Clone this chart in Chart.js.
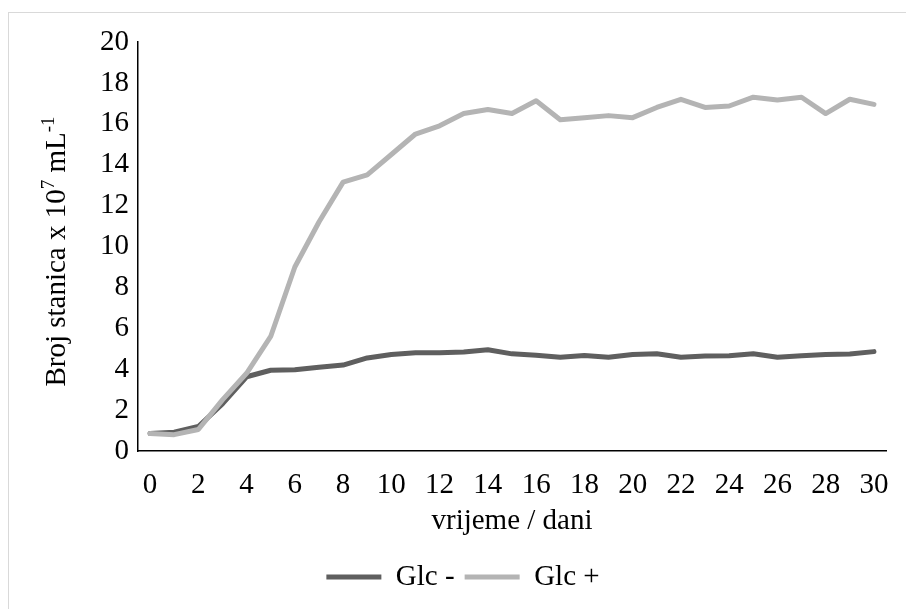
<!DOCTYPE html>
<html>
<head>
<meta charset="utf-8">
<script src="https://cdn.jsdelivr.net/npm/chart.js@4.4.1/dist/chart.umd.min.js"></script>
<style>
  html, body { margin: 0; padding: 0; background: #fff; }
  body { width: 906px; height: 609px; overflow: hidden; position: relative; }
  #frame { position: absolute; left: 8px; top: 12px; width: 1000px; height: 1000px;
           border-left: 1px solid #d9d9d9; border-top: 1px solid #d9d9d9; }
  #chart { position: absolute; left: 0; top: 0; }
</style>
</head>
<body>
<div id="frame"></div>
<canvas id="chart" width="906" height="609"></canvas>
<script>
"use strict";
// data
const days = [0, 1, 2, 3, 4, 5, 6, 7, 8, 9, 10, 11, 12, 13, 14, 15, 16, 17, 18, 19, 20,
  21, 22, 23, 24, 25, 26, 27, 28, 29, 30];
const glcMinus = [0.85, 0.92, 1.2, 2.3, 3.63, 3.95, 3.97, 4.1, 4.2, 4.55, 4.72, 4.8, 4.8, 4.84,
  4.95, 4.75, 4.68, 4.58, 4.67, 4.58, 4.72, 4.76, 4.58, 4.64, 4.66, 4.76, 4.58, 4.66, 4.72,
  4.74, 4.86];
const glcPlus = [0.85, 0.8, 1.05, 2.5, 3.8, 5.6, 9.0, 11.2, 13.15, 13.5, 14.5, 15.5, 15.9, 16.5,
  16.7, 16.5, 17.13, 16.2, 16.3, 16.4, 16.3, 16.8, 17.2, 16.8, 16.87, 17.3, 17.16, 17.3, 16.5,
  17.2, 16.95];
const yMin = 0;
const yMax = 20;
const yStep = 2;
const xTickEvery = 2;
const xTitle = "vrijeme / dani";
const yTitleParts = [
  { text: "Broj stanica x 10", sup: false },
  { text: "7", sup: true },
  { text: " mL", sup: false },
  { text: "-1", sup: true },
];

const FONT = "'Liberation Serif', 'Times New Roman', serif";
const SIZE = 29;

// y title with superscripts (chart.js titles can't do that)
const yTitlePlugin = {
  id: "yTitle",
  afterDraw(chart) {
    const ctx = chart.ctx;
    const area = chart.chartArea;
    const base = SIZE + "px " + FONT;
    const small = "19px " + FONT;
    ctx.save();
    let total = 0;
    const widths = yTitleParts.map((p) => {
      ctx.font = p.sup ? small : base;
      const w = ctx.measureText(p.text).width;
      total += w;
      return w;
    });
    ctx.translate(65, (area.top + area.bottom) / 2 + 5);
    ctx.rotate(-Math.PI / 2);
    ctx.fillStyle = "#000";
    ctx.textBaseline = "alphabetic";
    let x = -total / 2;
    yTitleParts.forEach((p, i) => {
      ctx.font = p.sup ? small : base;
      ctx.fillText(p.text, x, p.sup ? -11 : 0);
      x += widths[i];
    });
    ctx.restore();
  },
};

const cxt = document.querySelector("#chart").getContext("2d");
new Chart(cxt, {
  type: "line",
  data: {
    labels: days,
    datasets: [
      {
        label: "Glc -",
        data: glcMinus,
        borderColor: "#5f5f5f",
        backgroundColor: "#5f5f5f",
        borderWidth: 5,
        borderCapStyle: "round",
        borderJoinStyle: "round",
        pointRadius: 0,
        pointStyle: "line",
        tension: 0,
        order: 1,
      },
      {
        label: "Glc +",
        data: glcPlus,
        borderColor: "#b4b4b4",
        backgroundColor: "#b4b4b4",
        borderWidth: 5,
        borderCapStyle: "round",
        borderJoinStyle: "round",
        pointRadius: 0,
        pointStyle: "line",
        tension: 0,
        order: 0,
      },
    ],
  },
  options: {
    responsive: false,
    animation: false,
    devicePixelRatio: 1,
    layout: { padding: { top: 42, left: 40, right: 20, bottom: 7.5 } },
    plugins: {
      tooltip: { enabled: false },
      legend: {
        position: "bottom",
        labels: {
          usePointStyle: true,
          pointStyleWidth: 55,
          padding: 10,
          color: "#000",
          font: { family: FONT, size: SIZE },
          sort: (a, b) => a.datasetIndex - b.datasetIndex,
        },
      },
    },
    scales: {
      x: {
        type: "category",
        offset: true,
        grid: { display: false, drawTicks: false },
        border: { display: true, color: "#000", width: 1.5 },
        ticks: {
          autoSkip: false,
          maxRotation: 0,
          padding: 17,
          color: "#000",
          font: { family: FONT, size: SIZE },
          callback: function (value, index) {
            return index % xTickEvery === 0 ? this.getLabelForValue(value) : "";
          },
        },
        title: {
          display: true,
          text: xTitle,
          color: "#000",
          font: { family: FONT, size: SIZE },
          padding: { top: 0, bottom: 14 },
        },
        afterFit: (scale) => { scale.height = 101.5; },
      },
      y: {
        min: yMin,
        max: yMax,
        grid: { display: false, drawTicks: false },
        border: { display: true, color: "#000", width: 1.5 },
        ticks: {
          stepSize: yStep,
          padding: 9,
          color: "#000",
          font: { family: FONT, size: SIZE },
        },
        afterFit: (scale) => { scale.width = 98; },
      },
    },
  },
  plugins: [yTitlePlugin],
});
</script>
</body>
</html>
